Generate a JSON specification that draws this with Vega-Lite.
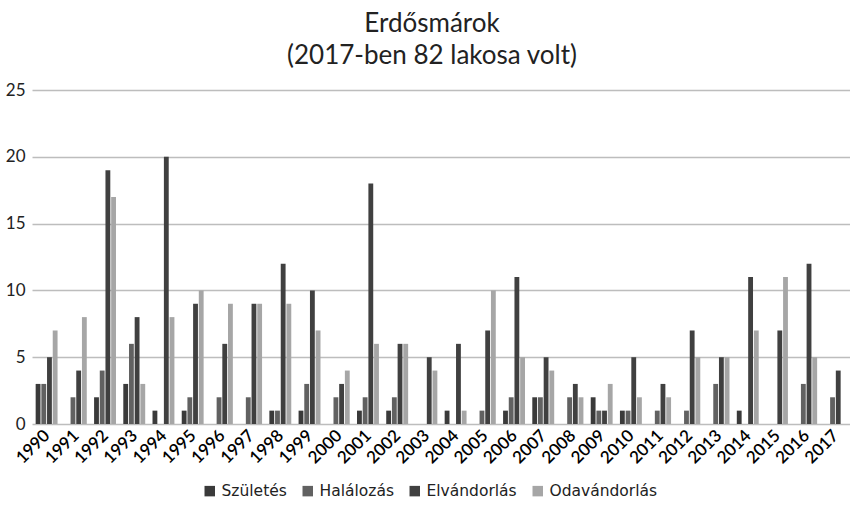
{
  "$schema": "https://vega.github.io/schema/vega-lite/v6.json",
  "width": 818,
  "height": 334,
  "autosize": {"type": "none"},
  "padding": {"left": 32, "top": 90, "right": 0, "bottom": 91},
  "background": "white",
  "title": {
    "text": ["Erdősmárok", "(2017-ben 82 lakosa volt)"],
    "font": "Lato",
    "fontSize": 26,
    "fontWeight": "normal",
    "color": "#222222",
    "anchor": "middle",
    "offset": 12,
    "dx": -9,
    "lineHeight": 32
  },
  "data": {
    "values": [
      {"ev": "1990", "Születés": 3, "Halálozás": 3, "Elvándorlás": 5, "Odavándorlás": 7},
      {"ev": "1991", "Születés": 0, "Halálozás": 2, "Elvándorlás": 4, "Odavándorlás": 8},
      {"ev": "1992", "Születés": 2, "Halálozás": 4, "Elvándorlás": 19, "Odavándorlás": 17},
      {"ev": "1993", "Születés": 3, "Halálozás": 6, "Elvándorlás": 8, "Odavándorlás": 3},
      {"ev": "1994", "Születés": 1, "Halálozás": 0, "Elvándorlás": 20, "Odavándorlás": 8},
      {"ev": "1995", "Születés": 1, "Halálozás": 2, "Elvándorlás": 9, "Odavándorlás": 10},
      {"ev": "1996", "Születés": 0, "Halálozás": 2, "Elvándorlás": 6, "Odavándorlás": 9},
      {"ev": "1997", "Születés": 0, "Halálozás": 2, "Elvándorlás": 9, "Odavándorlás": 9},
      {"ev": "1998", "Születés": 1, "Halálozás": 1, "Elvándorlás": 12, "Odavándorlás": 9},
      {"ev": "1999", "Születés": 1, "Halálozás": 3, "Elvándorlás": 10, "Odavándorlás": 7},
      {"ev": "2000", "Születés": 0, "Halálozás": 2, "Elvándorlás": 3, "Odavándorlás": 4},
      {"ev": "2001", "Születés": 1, "Halálozás": 2, "Elvándorlás": 18, "Odavándorlás": 6},
      {"ev": "2002", "Születés": 1, "Halálozás": 2, "Elvándorlás": 6, "Odavándorlás": 6},
      {"ev": "2003", "Születés": 0, "Halálozás": 0, "Elvándorlás": 5, "Odavándorlás": 4},
      {"ev": "2004", "Születés": 1, "Halálozás": 0, "Elvándorlás": 6, "Odavándorlás": 1},
      {"ev": "2005", "Születés": 0, "Halálozás": 1, "Elvándorlás": 7, "Odavándorlás": 10},
      {"ev": "2006", "Születés": 1, "Halálozás": 2, "Elvándorlás": 11, "Odavándorlás": 5},
      {"ev": "2007", "Születés": 2, "Halálozás": 2, "Elvándorlás": 5, "Odavándorlás": 4},
      {"ev": "2008", "Születés": 0, "Halálozás": 2, "Elvándorlás": 3, "Odavándorlás": 2},
      {"ev": "2009", "Születés": 2, "Halálozás": 1, "Elvándorlás": 1, "Odavándorlás": 3},
      {"ev": "2010", "Születés": 1, "Halálozás": 1, "Elvándorlás": 5, "Odavándorlás": 2},
      {"ev": "2011", "Születés": 0, "Halálozás": 1, "Elvándorlás": 3, "Odavándorlás": 2},
      {"ev": "2012", "Születés": 0, "Halálozás": 1, "Elvándorlás": 7, "Odavándorlás": 5},
      {"ev": "2013", "Születés": 0, "Halálozás": 3, "Elvándorlás": 5, "Odavándorlás": 5},
      {"ev": "2014", "Születés": 1, "Halálozás": 0, "Elvándorlás": 11, "Odavándorlás": 7},
      {"ev": "2015", "Születés": 0, "Halálozás": 0, "Elvándorlás": 7, "Odavándorlás": 11},
      {"ev": "2016", "Születés": 0, "Halálozás": 3, "Elvándorlás": 12, "Odavándorlás": 5},
      {"ev": "2017", "Születés": 0, "Halálozás": 2, "Elvándorlás": 4, "Odavándorlás": 0}
    ]
  },
  "transform": [
    {"fold": ["Születés", "Halálozás", "Elvándorlás", "Odavándorlás"], "as": ["sor", "ertek"]}
  ],
  "mark": {"type": "bar"},
  "encoding": {
    "x": {
      "field": "ev",
      "type": "nominal",
      "scale": {"paddingInner": 0.25, "paddingOuter": 0.125},
      "axis": {
        "title": null,
        "labelAngle": -45,
        "labelFont": "Lato",
        "labelFontSize": 17,
        "labelFontWeight": 600,
        "labelColor": "#000000",
        "labelPadding": 3,
        "labelOffset": -5,
        "domain": false,
        "ticks": false
      }
    },
    "xOffset": {
      "field": "sor",
      "sort": ["Születés", "Halálozás", "Elvándorlás", "Odavándorlás"],
      "scale": {"paddingInner": 0.15}
    },
    "y": {
      "field": "ertek",
      "type": "quantitative",
      "scale": {"domain": [0, 25]},
      "axis": {
        "title": null,
        "values": [0, 5, 10, 15, 20, 25],
        "labelFont": "Lato",
        "labelFontSize": 17,
        "labelColor": "#222222",
        "labelPadding": 7,
        "domain": false,
        "ticks": false,
        "gridColor": "#bdbdbd",
        "gridWidth": 1.5
      }
    },
    "color": {
      "field": "sor",
      "type": "nominal",
      "sort": ["Születés", "Halálozás", "Elvándorlás", "Odavándorlás"],
      "scale": {
        "domain": ["Születés", "Halálozás", "Elvándorlás", "Odavándorlás"],
        "range": ["#3a3a3a", "#616161", "#404040", "#a6a6a6"]
      },
      "legend": {
        "title": null,
        "orient": "none",
        "direction": "horizontal",
        "legendX": 170,
        "legendY": 393,
        "symbolType": "square",
        "symbolSize": 110,
        "symbolStrokeWidth": 0,
        "labelFont": "DejaVu Sans",
        "labelFontSize": 15.5,
        "labelColor": "#222222",
        "columnPadding": 13,
        "labelOffset": 4
      }
    }
  },
  "config": {
    "view": {"stroke": null}
  }
}
